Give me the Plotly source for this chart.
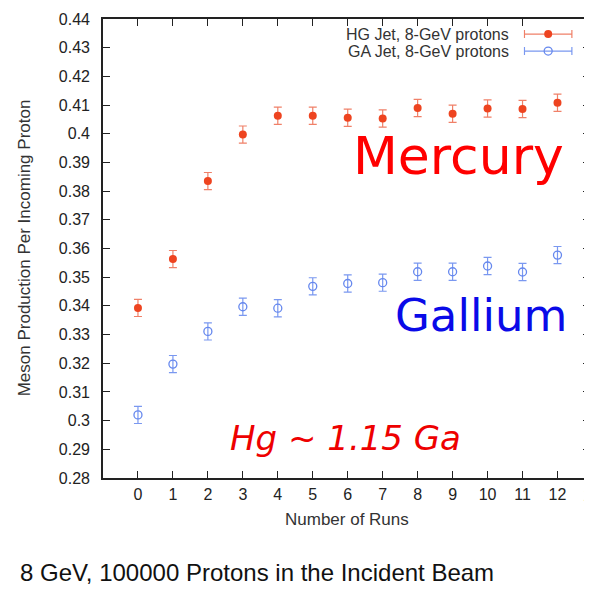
import plotly.graph_objects as go

runs = list(range(13))
hg_values = [0.3393, 0.3563, 0.3835, 0.3997, 0.4063, 0.4063, 0.4056, 0.4053, 0.4090, 0.4070, 0.4088, 0.4086, 0.4108]
hg_errors = [0.003] * 13
ga_values = [0.3020, 0.3197, 0.3311, 0.3397, 0.3392, 0.3468, 0.3478, 0.3481, 0.3519, 0.3519, 0.3539, 0.3518, 0.3577]
ga_errors = [0.003] * 13
x_ticks = list(range(13))
y_ticks = [0.28 + 0.01 * i for i in range(17)]
y_tick_text = ["%g" % round(v, 2) for v in y_ticks]
legend_names = ["HG Jet, 8-GeV protons", "GA Jet, 8-GeV protons"]

RED = "#ee4420"
RED_ERR = "#f08068"
BLUE = "#6688ee"
BLUE_ERR = "#7a98f0"
AXIS = "#222222"
FONT = "Liberation Sans, Arial, sans-serif"

fig = go.Figure()
fig.add_trace(go.Scatter(
    x=runs, y=hg_values, mode="markers", name=legend_names[0],
    marker=dict(color=RED, size=8, symbol="circle"),
    error_y=dict(type="data", array=hg_errors, color=RED_ERR, thickness=1.2, width=4),
    showlegend=False, cliponaxis=False))
fig.add_trace(go.Scatter(
    x=runs, y=ga_values, mode="markers", name=legend_names[1],
    marker=dict(color=BLUE, size=8, symbol="circle-open", line=dict(width=1.3)),
    error_y=dict(type="data", array=ga_errors, color=BLUE_ERR, thickness=1.2, width=4),
    showlegend=False, cliponaxis=False))

# legend samples (marker with horizontal error bars) on an auxiliary axis pair
fig.add_trace(go.Scatter(
    x=[0], y=[0.673], mode="markers", xaxis="x2", yaxis="y2",
    marker=dict(color=RED, size=8),
    error_x=dict(type="data", array=[1], color=RED_ERR, thickness=1.2, width=4),
    showlegend=False, hoverinfo="skip", cliponaxis=False))
fig.add_trace(go.Scatter(
    x=[0], y=[0.303], mode="markers", xaxis="x2", yaxis="y2",
    marker=dict(color=BLUE, size=8, symbol="circle-open", line=dict(width=1.3)),
    error_x=dict(type="data", array=[1], color=BLUE_ERR, thickness=1.2, width=4),
    showlegend=False, hoverinfo="skip", cliponaxis=False))

# the page has an 8px body margin: the figure is drawn from (8, 8)
OFF = 8
W, H = 592 - OFF, 589 - OFF
L, R, T = 103 - OFF, 0, 19 - OFF
B = H - (478 - OFF)
pw = W - L - R
ph = H - T - B

def px(xpix):
    return (xpix - OFF - L) / pw

def py(ypix):
    return (H - B - (ypix - OFF)) / ph

fig.update_layout(
    width=W, height=H,
    margin=dict(l=L, r=R, t=T, b=B),
    paper_bgcolor="white", plot_bgcolor="white",
    font=dict(family=FONT, size=16, color=AXIS),
    xaxis=dict(range=[-1, 12.93], tickvals=x_ticks, ticks="inside", ticklen=7,
               tickwidth=1.2, tickcolor=AXIS, showline=True, linecolor=AXIS, linewidth=1.6,
               mirror="ticks", showgrid=False, zeroline=False, ticklabelstandoff=1,
               tickfont=dict(size=16, color=AXIS)),
    yaxis=dict(range=[0.28, 0.44], tickvals=y_ticks, ticktext=y_tick_text, ticks="inside",
               ticklen=7, tickwidth=1.2, tickcolor=AXIS, showline=True, linecolor=AXIS,
               linewidth=1.6, mirror="ticks", showgrid=False, zeroline=False,
               ticklabelstandoff=8, tickfont=dict(size=16, color=AXIS)),
    xaxis2=dict(domain=[px(525), px(575)], range=[-1.05, 1.05], visible=False, anchor="y2"),
    yaxis2=dict(domain=[py(65), 1.0], range=[0, 1], visible=False, anchor="x2"),
    showlegend=False,
)

def note(xpix, ypix, text, size, color, family=FONT, xanchor="center", angle=0):
    return dict(x=px(xpix), y=py(ypix), xref="paper", yref="paper", text=text,
                xanchor=xanchor, yanchor="middle", textangle=angle, showarrow=False,
                font=dict(size=size, color=color, family=family))

ann = [
    note(24, 248, "Meson Production Per Incoming Proton", 17, "#333333", angle=-90),
    note(348, 520, "Number of Runs", 17, "#333333"),
    note(594, 495, "13", 16, AXIS),
    note(513, 34, legend_names[0], 16, "#333333", xanchor="right"),
    note(513, 51, legend_names[1], 16, "#333333", xanchor="right"),
    note(460, 156, "Mercury", 52, "#ff0000", family="DejaVu Sans"),
    note(483, 315, "Gallium", 45, "#0a0ae8", family="DejaVu Sans"),
    note(346, 438, "<i>Hg ~ 1.15 Ga</i>", 34, "#ee0000", family="DejaVu Sans"),
    note(18, 572, "8 GeV, 100000 Protons in the Incident Beam", 24, "#111111", xanchor="left"),
]
fig.update_layout(annotations=ann)

fig.write_html("out.html")
